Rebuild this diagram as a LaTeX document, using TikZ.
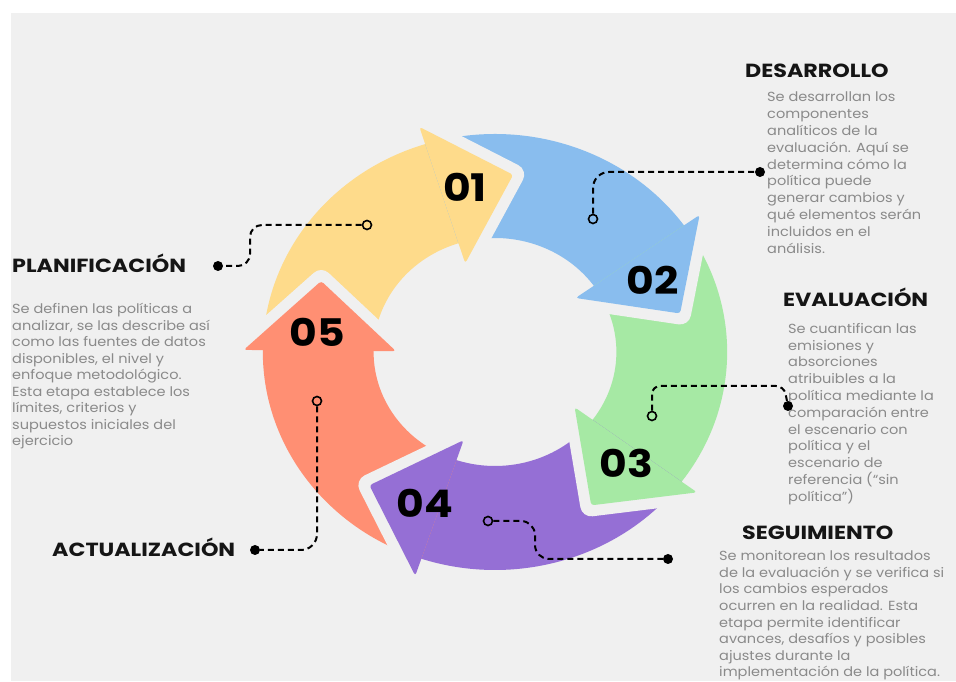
\documentclass[tikz,border=0pt]{standalone}
\usepackage{fontspec}
\setmainfont{Poppins}
\newfontfamily\headfont{Poppins}[FakeStretch=1.17]
\newfontfamily\numfont{Poppins}[FakeStretch=1.12]
\newfontfamily\txtfont{Poppins}[FakeStretch=1.1]
\definecolor{bgc}{HTML}{F0F0F0}
\definecolor{cyel}{HTML}{FEDB8B}
\definecolor{cblu}{HTML}{89BDEE}
\definecolor{cgrn}{HTML}{A6E9A4}
\definecolor{cpur}{HTML}{956FD5}
\definecolor{csal}{HTML}{FF8F73}
\definecolor{bodytxt}{HTML}{8A8A8A}
\definecolor{headtxt}{HTML}{151515}
\begin{document}
\begin{tikzpicture}[x=1pt,y=1pt,
  headlabel/.style={anchor=base west, inner sep=0pt, text=headtxt, font=\headfont\fontsize{19}{19}\selectfont\bfseries},
  bodytext/.style={anchor=north west, inner sep=0pt, align=left, text=bodytxt},
  numlabel/.style={inner sep=0pt, text=black, font=\numfont\fontsize{38}{38}\selectfont\bfseries},
  link/.style={draw=black, line width=2pt, dash pattern=on 6pt off 4pt},
  opendot/.style={circle, draw=black, line width=1.6pt, minimum size=9pt, inner sep=0pt},
  fulldot/.style={circle, fill=black, minimum size=10pt, inner sep=0pt},
  gapline/.style={draw=bgc, line width=22pt, line join=round, line cap=round},
]
\useasboundingbox (0,0) rectangle (956,682);
\fill[white] (0,0) rectangle (956,682);
\fill[bgc] (11,1) rectangle (956,669);

\begin{scope}[shift={(495,330)}, xscale=1.065]
  \foreach \B/\c in {107.5/cyel, 35.5/cblu, -36.5/cgrn, -108.5/cpur, -180.5/csal}{
    \fill[\c] (\B+72:218) arc[start angle=\B+72, end angle=\B-2, radius=218]
      -- (\B-2:114) arc[start angle=\B-2, end angle=\B+72, radius=114] -- cycle;
  }
  \foreach \B/\c in {107.5/cyel, 35.5/cblu, -36.5/cgrn, -108.5/cpur, -180.5/csal}{
    \draw[gapline] (\B:236) -- (\B-23:178) -- (\B:93);
    \fill[\c, rounded corners=3pt] (\B:236) -- (\B-23:178) -- (\B:93) -- cycle;
  }
\end{scope}

% numbers
\node[numlabel] (n1) at (465,495) {01};
\node[numlabel] (n2) at (653,402) {02};
\node[numlabel] (n3) at (626,219) {03};
\node[numlabel] (n4) at (425,179) {04};
\node[numlabel] (n5) at (317,350) {05};

% headings
\node[headlabel] (h1) at (12,409) {PLANIFICACIÓN};
\node[headlabel] (h2) at (745,604) {DESARROLLO};
\node[headlabel] (h3) at (783,375) {EVALUACIÓN};
\node[headlabel] (h4) at (742,142) {SEGUIMIENTO};
\node[headlabel] (h5) at (52,125) {ACTUALIZACIÓN};

% body texts
\node[bodytext, font=\txtfont\fontsize{13.2}{16.5}\selectfont] (t1) at (12,379) {Se definen las políticas a\\analizar, se las describe así\\como las fuentes de datos\\disponibles, el nivel y\\enfoque metodológico.\\Esta etapa establece los\\límites, criterios y\\supuestos iniciales del\\ejercicio};
\node[bodytext, font=\txtfont\fontsize{13.2}{16.8}\selectfont] (t2) at (767,590) {Se desarrollan los\\componentes\\analíticos de la\\evaluación. Aquí se\\determina cómo la\\política puede\\generar cambios y\\qué elementos serán\\incluidos en el\\análisis.};
\node[bodytext, font=\txtfont\fontsize{13.2}{16.8}\selectfont] (t3) at (788,359) {Se cuantifican las\\emisiones y\\absorciones\\atribuibles a la\\política mediante la\\comparación entre\\el escenario con\\política y el\\escenario de\\referencia (“sin\\política”)};
\node[bodytext, font=\txtfont\fontsize{13.2}{16.6}\selectfont] (t4) at (719,131.5) {Se monitorean los resultados\\de la evaluación y se verifica si\\los cambios esperados\\ocurren en la realidad. Esta\\etapa permite identificar\\avances, desafíos y posibles\\ajustes durante la\\implementación de la política.};

% connectors
\node[opendot] (c1) at (367,457) {};
\node[fulldot] (d1) at (218,416) {};
\draw[link, rounded corners=12pt] (c1) -- (250,457) -- (250,416) -- (d1);

\node[opendot] (c2) at (593,463) {};
\node[fulldot] (d2) at (760,510) {};
\draw[link, rounded corners=16pt] (c2) -- (593,510) -- (d2);

\node[opendot] (c3) at (652,266) {};
\node[fulldot] (d3) at (788,276) {};
\draw[link, rounded corners=8pt] (c3) -- (652,296) -- (784,296) -- (d3);

\node[opendot] (c4) at (488,161) {};
\node[fulldot] (d4) at (668,123) {};
\draw[link, rounded corners=14pt] (c4) -- (535,161) -- (535,123) -- (d4);

\node[opendot] (c5) at (317,281) {};
\node[fulldot] (d5) at (255,132) {};
\draw[link, rounded corners=16pt] (c5) -- (317,132) -- (d5);
\end{tikzpicture}
\end{document}
